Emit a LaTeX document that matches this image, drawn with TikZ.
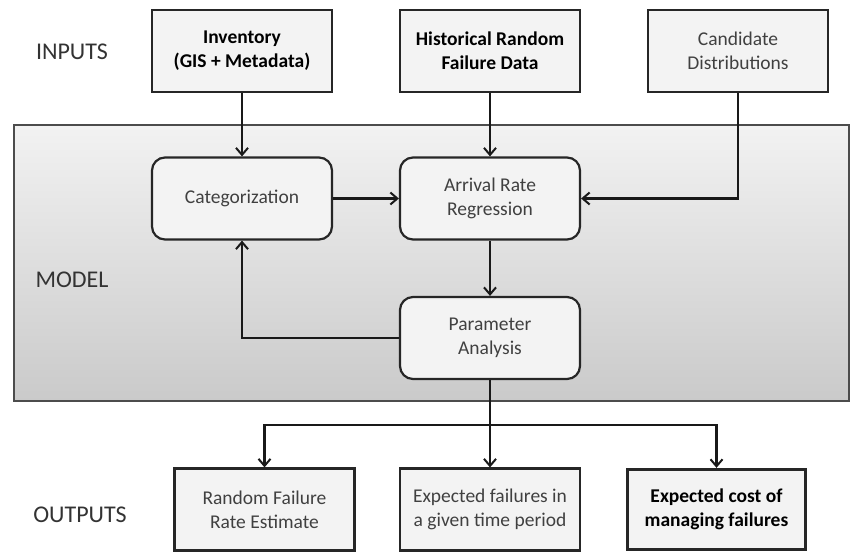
\documentclass[tikz,border=0pt]{standalone}
\usepackage{fontspec}
\setmainfont{Carlito}
\usetikzlibrary{arrows.meta,positioning}
\definecolor{boxfill}{HTML}{F3F3F3}
\definecolor{txtgray}{HTML}{404040}
\definecolor{panelA}{HTML}{F2F2F2}
\definecolor{panelB}{HTML}{CACACA}
\begin{document}
\begin{tikzpicture}[x=1pt,y=-1pt,
  inbox/.style={draw=black!85,line width=2.2pt,fill=boxfill,minimum width=180pt,minimum height=82pt,
    align=center,font=\fontsize{19.5}{24}\selectfont,text=txtgray},
  modbox/.style={inbox,rounded corners=13pt},
  boldtxt/.style={font=\fontsize{19.5}{24}\selectfont\bfseries,text=black},
  sidelabel/.style={font=\fontsize{24}{28}\selectfont,text=black!80},
  link/.style={draw=black!90,line width=2.2pt,-{Straight Barb[length=7pt,width=12pt,line width=2pt]}}
]
\useasboundingbox (0,0) rectangle (850,552);
% model panel
\shade[top color=panelA,bottom color=panelB]
  (14,125) rectangle (849,401);
\draw[black!70,line width=1.4pt] (14,125) rectangle (849,401);

% side labels
\node[sidelabel] (lin) at (72,52) {INPUTS};
\node[sidelabel] (lmod) at (72,280) {MODEL};
\node[sidelabel] (lout) at (80,515) {OUTPUTS};

% inputs
\node[inbox,boldtxt] (inv) at (242,51) {Inventory\\(GIS + Metadata)};
\node[inbox,boldtxt] (hist) at (490,51) {Historical Random\\Failure Data};
\node[inbox] (cand) at (738,51) {Candidate\\Distributions};

% model steps
\node[modbox] (cat) at (242,198.5) {Categorization};
\node[modbox] (arr) at (490,198.5) {Arrival Rate\\Regression};
\node[modbox] (par) at (490,338) {Parameter\\Analysis};

% outputs
\node[inbox] (o1) at (264.5,509.5) {Random Failure\\Rate Estimate};
\node[inbox] (o2) at (490,509.5) {Expected failures in\\a given time period};
\node[inbox,boldtxt,line width=3.4pt,minimum width=178pt,minimum height=80pt] (o3) at (716.5,509.5) {Expected cost of\\managing failures};

% connectors
\draw[link] (inv) -- (cat);
\draw[link] (hist) -- (arr);
\draw[link] (cand.south) |- (arr.east);
\draw[link] (cat) -- (arr);
\draw[link] (arr) -- (par);
\draw[link] (par.west) -| (cat.south);
\coordinate (split) at (490,425);
\draw[line width=2.2pt,black!90] (par.south) -- (split);
\draw[link] (split) -| (o1.north);
\draw[link] (split) -- (o2.north);
\draw[link] (split) -| (o3.north);
\end{tikzpicture}
\end{document}
